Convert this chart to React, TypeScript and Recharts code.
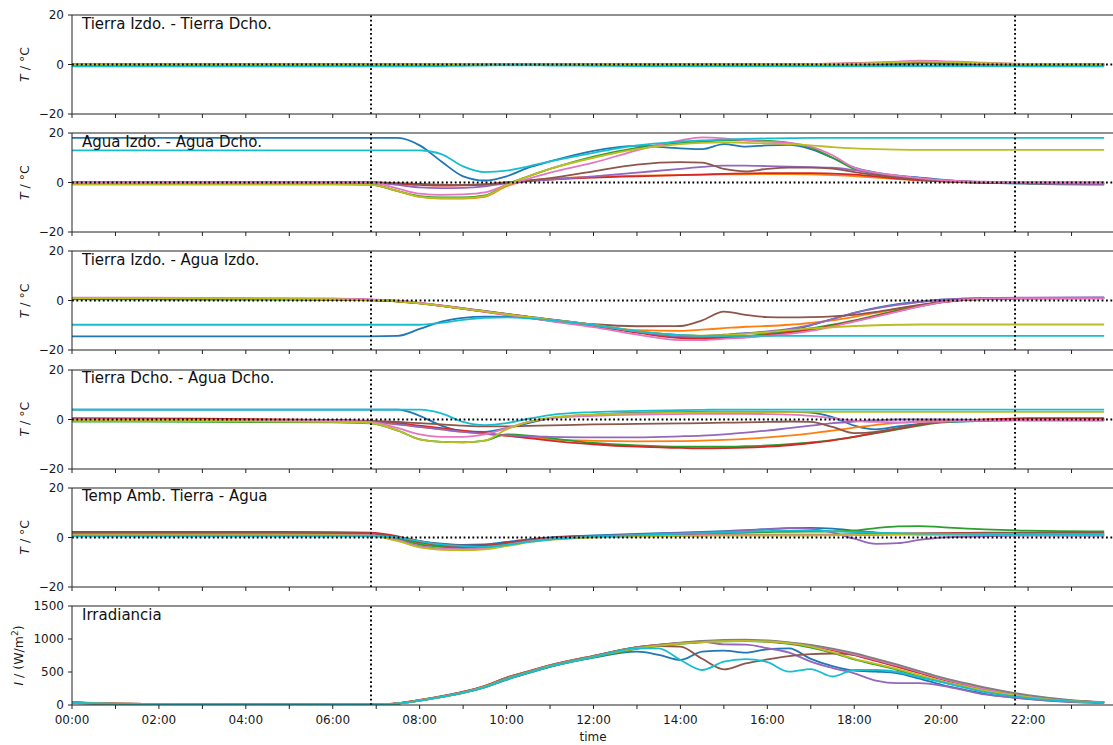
import React from 'react';
import { LineChart, Line, XAxis, YAxis, ReferenceLine } from 'recharts';

// ---------- time axes (hours) ----------
const T = [0, 3, 6, 6.87, 7.5, 8, 8.5, 9, 9.5, 10, 10.5, 11, 12, 13, 14, 14.5, 15, 15.5, 16, 16.5, 17, 17.5, 18, 18.5, 19, 19.5, 20, 21, 22, 23.75];
const TI = [0, 1, 3, 6, 6.87, 7.25, 7.5, 8, 8.5, 9, 9.5, 10, 10.5, 11, 12, 13, 13.5, 14, 14.5, 15, 15.5, 16, 16.5, 17, 17.5, 18, 18.5, 19, 19.5, 20, 20.5, 21, 21.7, 22, 23, 23.75];
const HOUR_TICKS = [0, 1, 2, 3, 4, 5, 6, 7, 8, 9, 10, 11, 12, 13, 14, 15, 16, 17, 18, 19, 20, 21, 22, 23];
const HOUR_LABELS = ['00:00', '02:00', '04:00', '06:00', '08:00', '10:00', '12:00', '14:00', '16:00', '18:00', '20:00', '22:00'];
const SUNRISE = 6.88;
const SUNSET = 21.7;

const TEMP_TICKS = [-20, 0, 20];
const IRR_TICKS = [0, 500, 1000, 1500];

const TITLES = [
  'Tierra Izdo. - Tierra Dcho.',
  'Agua Izdo. - Agua Dcho.',
  'Tierra Izdo. - Agua Izdo.',
  'Tierra Dcho. - Agua Dcho.',
  'Temp Amb. Tierra - Agua',
  'Irradiancia',
];

// ---------- panel 1: Tierra Izdo. - Tierra Dcho. ----------
const tierraDiff: Record<string, number[]> = {
  blue: [-0.6, -0.6, -0.6, -0.6, -0.5, -0.4, -0.3, -0.2, -0.1, 0, 0, -0.1, -0.2, -0.3, -0.3, -0.3, -0.3, -0.3, -0.3, -0.2, -0.2, -0.1, 0, 0.1, 0.3, 0.5, 0.4, 0.1, -0.3, -0.5],
  orange: [0.2, 0.2, 0.2, 0.2, 0.1, 0, -0.1, -0.1, 0, 0.1, 0.2, 0.2, 0.1, 0, 0, 0, 0, 0, 0.1, 0.1, 0.2, 0.3, 0.4, 0.6, 0.8, 0.9, 0.7, 0.3, 0.1, 0.1],
  green: [-0.3, -0.3, -0.3, -0.3, -0.3, -0.2, -0.1, 0, 0.1, 0.2, 0.2, 0.1, 0, -0.1, -0.1, -0.1, -0.1, -0.1, -0.1, 0, 0, 0.1, 0.2, 0.3, 0.4, 0.5, 0.4, 0.1, -0.2, -0.3],
  red: [0.1, 0.1, 0.1, 0.1, 0, 0, 0, 0, 0, 0.1, 0.1, 0.1, 0, 0, 0, 0, 0, 0, 0, 0.1, 0.1, 0.2, 0.3, 0.5, 0.7, 0.8, 0.7, 0.3, 0.1, 0.1],
  purple: [-0.2, -0.2, -0.2, -0.2, -0.2, -0.1, 0, 0, 0, 0, 0, 0, 0, 0, 0, 0, 0, 0, 0, 0.1, 0.1, 0.2, 0.3, 0.5, 0.8, 1, 0.9, 0.4, 0.1, -0.1],
  brown: [0, 0, 0, 0, 0, 0, 0, 0, 0, 0, 0, 0, 0, 0, 0, 0, 0, 0, 0, 0, 0.1, 0.1, 0.2, 0.3, 0.5, 0.6, 0.5, 0.2, 0, 0],
  pink: [0, 0, 0, 0, 0, 0.1, 0.1, 0.1, 0, 0, 0, 0, 0, 0, 0, 0, 0, 0, 0.1, 0.1, 0.2, 0.3, 0.5, 0.8, 1.2, 1.6, 1.4, 0.7, 0.2, 0],
  olive: [0, 0, 0, 0, 0, 0, 0, 0, 0, 0, 0, 0, 0, 0, 0, 0, 0, 0, 0, 0, 0.1, 0.2, 0.3, 0.5, 0.9, 1.2, 1.1, 0.5, 0.2, 0],
  cyan: [-0.7, -0.7, -0.7, -0.7, -0.7, -0.7, -0.6, -0.5, -0.4, -0.3, -0.3, -0.4, -0.5, -0.6, -0.6, -0.6, -0.6, -0.6, -0.6, -0.6, -0.6, -0.6, -0.6, -0.6, -0.6, -0.6, -0.6, -0.6, -0.7, -0.7],
};

// ---------- panel 2: Agua Izdo. - Agua Dcho. ----------
const aguaDiff: Record<string, number[]> = {
  blue: [18, 18, 18, 18, 18, 15, 8.5, 2.5, 0.8, 2.5, 6, 8.5, 12.8, 14.8, 13.8, 13.5, 15.5, 14.5, 15, 15.2, 13.5, 10, 6, 4, 2.8, 2, 1.2, 0, -0.5, -0.8],
  orange: [-0.5, -0.5, -0.6, -0.8, -3.5, -5.8, -6.5, -6.5, -5.8, -1.5, 0.8, 1.5, 2.3, 2.8, 3, 3.2, 3.3, 3.3, 3.4, 3.4, 3.3, 3, 2.6, 2, 1.4, 0.9, 0.5, 0, -0.3, -0.5],
  green: [-0.5, -0.5, -0.5, -0.8, -3.5, -5.5, -6, -6, -5.2, -0.8, 2.5, 5.5, 10.5, 14, 16, 16.5, 17, 17, 16.8, 16, 14, 10, 5.5, 3.5, 2.5, 1.5, 0.8, 0, -0.3, -0.5],
  red: [0, 0, 0, 0, -0.5, -1, -1.3, -1.2, -0.8, 0, 0.6, 1.2, 2, 2.5, 3, 3.2, 3.5, 3.7, 3.8, 3.8, 3.8, 3.6, 3.2, 2.5, 1.6, 1, 0.5, 0, 0, 0],
  purple: [0, 0, 0, 0, -1, -2, -2.3, -2.2, -1.6, -0.3, 0.6, 1.2, 2.5, 4, 5.5, 6.3, 6.8, 6.8, 6.6, 6.4, 6.2, 6, 5, 3.8, 2.6, 1.6, 0.9, 0.2, -0.3, -0.6],
  brown: [0, 0, 0, 0, -0.3, -0.6, -0.9, -1, -0.8, 0, 0.8, 1.8, 4.5, 7.2, 8.2, 8, 5.5, 4.5, 5.5, 6, 6, 5.6, 4.2, 3, 2, 1.2, 0.6, 0, -0.2, -0.3],
  pink: [0, 0, 0, 0, -2.5, -4.5, -5, -4.8, -4, -1, 1.5, 4, 8, 13, 17, 18.2, 17.8, 17, 16.5, 16, 14.5, 11, 6, 4, 2.8, 1.8, 1, 0.3, 0, -0.2],
  olive: [-0.8, -0.8, -0.8, -1, -3.5, -5.8, -6.3, -6.3, -5.5, -1, 2.5, 5.5, 10, 13.5, 15.5, 16, 16.2, 16, 15.8, 15.5, 15, 14.3, 13.8, 13.5, 13.3, 13.2, 13.2, 13.2, 13.2, 13.2],
  cyan: [13, 13, 13, 13, 13, 13, 11.5, 6.5, 4.2, 4.8, 6.5, 8.5, 12, 15, 16.5, 17, 17.3, 17.6, 17.8, 17.9, 18, 18, 18, 18, 18, 18, 18, 18, 18, 18],
};

// ---------- panel 3: Tierra Izdo. - Agua Izdo. ----------
const izdoDiff: Record<string, number[]> = {
  blue: [-14.5, -14.5, -14.5, -14.5, -14.3, -11.5, -8.5, -7, -6.5, -6.5, -6.8, -7.6, -9.8, -12.5, -14, -14.3, -13.8, -13.2, -13, -12, -10, -7.5, -5, -3, -1.5, -0.5, 0.3, 0.9, 1.1, 1.2],
  orange: [0.6, 0.5, 0.4, 0.1, -0.4, -1.2, -2.2, -3.3, -4.4, -5.5, -6.6, -7.7, -9.9, -12, -12.3, -11.8, -11.2, -10.6, -10.3, -9.8, -9, -8, -6.6, -5, -3.4, -2, -0.7, 0.7, 0.9, 1],
  green: [0.5, 0.4, 0.3, 0.1, -0.4, -1.2, -2.2, -3.3, -4.4, -5.5, -6.6, -7.7, -10, -12.8, -14.8, -15, -14.8, -14.4, -13.6, -12.6, -11.3, -9.8, -8, -6, -4, -2.2, -0.7, 0.6, 0.8, 0.9],
  red: [0.8, 0.7, 0.5, 0.2, -0.3, -1.1, -2.2, -3.4, -4.6, -5.8, -7, -8.2, -10.4, -13, -15.2, -15.5, -15.2, -14.8, -14, -13, -11.8, -10.2, -8.3, -6.3, -4.3, -2.4, -0.8, 0.7, 1, 1],
  purple: [1, 0.9, 0.6, 0.3, -0.2, -1, -2, -3.1, -4.2, -5.4, -6.5, -7.6, -9.8, -12.6, -14.5, -14.6, -14, -13.3, -12.5, -11.5, -9.8, -7.5, -5, -3.2, -1.8, -0.6, 0.3, 1, 1.2, 1.3],
  brown: [0.8, 0.7, 0.5, 0.2, -0.3, -1.1, -2.1, -3.2, -4.3, -5.4, -6.6, -7.8, -9.6, -10.4, -10.3, -8, -4.5, -5.8, -6.7, -6.8, -6.7, -6.4, -5.8, -4.6, -3.2, -1.8, -0.5, 0.8, 1, 1.1],
  pink: [1.2, 1.1, 0.8, 0.4, -0.1, -1, -2.1, -3.3, -4.5, -5.8, -7, -8.3, -10.8, -13.8, -16, -16, -15.5, -15, -14.3, -13.5, -12.3, -10.5, -8.5, -6.5, -4.5, -2.5, -0.8, 0.8, 1, 1],
  olive: [1, 0.9, 0.5, 0.2, -0.3, -1.2, -2.2, -3.3, -4.4, -5.5, -6.6, -7.7, -9.8, -12.4, -14, -14.2, -14, -13.5, -12.8, -12, -11.3, -10.8, -10.3, -10, -9.8, -9.7, -9.7, -9.7, -9.7, -9.7],
  cyan: [-9.8, -9.8, -9.8, -9.8, -9.8, -9.8, -9, -7.8, -7, -6.8, -7.2, -7.9, -9.9, -12.4, -14, -14.3, -14.3, -14.3, -14.3, -14.3, -14.3, -14.3, -14.3, -14.3, -14.3, -14.3, -14.3, -14.3, -14.3, -14.3],
};

// ---------- panel 4: Tierra Dcho. - Agua Dcho. ----------
const dchoDiff: Record<string, number[]> = {
  blue: [4, 4, 4, 4, 4, 1.5, -2.5, -4.8, -5, -3.5, -1.5, 0.5, 2, 2.8, 3, 3.1, 3.2, 3.2, 3.2, 3.1, 2.8, 1, -2.5, -4, -2.8, -1.8, -1.2, -0.5, -0.3, -0.3],
  orange: [-0.3, -0.4, -0.7, -1, -2, -3, -4, -5, -5.8, -6.6, -7.3, -8, -8.6, -8.8, -8.7, -8.5, -8.2, -7.8, -7.2, -6.5, -5.6, -4.5, -3.3, -2.2, -1.4, -0.8, -0.4, -0.1, 0, 0],
  green: [-0.8, -0.9, -1.2, -1.6, -4.5, -8, -9, -9.2, -8.5, -6, -6.5, -7.5, -9.5, -10.5, -11, -11, -11, -10.8, -10.5, -10, -9.3, -8.3, -7, -5.5, -4, -2.5, -1.2, -0.3, 0, 0],
  red: [0.5, 0.3, -0.2, -0.8, -1.5, -2.5, -3.5, -4.5, -5.5, -6.5, -7.5, -8.5, -10, -11, -11.5, -11.7, -11.6, -11.4, -11, -10.4, -9.5, -8.4, -7, -5.4, -3.8, -2.2, -1, 0, 0.5, 0.5],
  purple: [-0.5, -0.6, -0.8, -1, -2, -3, -4, -5, -5.8, -6.4, -6.8, -7, -7.2, -7.2, -6.8, -6.5, -6, -5.3, -4.5, -3.5, -2.5, -1.5, -0.8, -0.3, 0, 0, 0, -0.2, -0.3, -0.3],
  brown: [0, -0.1, -0.3, -0.6, -1, -1.5, -2, -2.5, -2.8, -2.8, -2.6, -2.4, -2, -1.8, -1.6, -1.5, -1.3, -1.2, -1, -0.8, -1, -3, -5.5, -5, -3.5, -2, -1, -0.3, 0, 0],
  pink: [0, -0.2, -0.5, -1, -3.5, -6, -7, -7, -6, -3.5, -1, 0.5, 1.5, 2, 2.2, 2.3, 2.3, 2.3, 2.2, 2, 1.5, 0.5, -0.5, -1, -1.2, -1, -0.8, -0.4, -0.2, -0.2],
  olive: [-0.5, -0.6, -1, -1.5, -4.5, -8, -9, -9.2, -8.5, -4, -1, 0.8, 2, 2.5, 2.8, 2.9, 3, 3, 3, 3, 3.1, 3.1, 3.1, 3.1, 3.1, 3.1, 3.1, 3.1, 3.1, 3.1],
  cyan: [4, 4, 4, 4, 4, 4, 2.5, -1, -2.3, -1.5, 0.3, 1.8, 3, 3.5, 3.8, 3.9, 4, 4, 4, 4, 4, 4, 4, 4, 4, 4, 4, 4, 4, 4],
};

// ---------- panel 5: Temp Amb. Tierra - Agua ----------
const ambDiff: Record<string, number[]> = {
  blue: [1.3, 1.3, 1.2, 1, 0, -1.5, -2.5, -3, -2.8, -1.8, -0.8, 0, 0.8, 1.5, 2, 2.3, 2.6, 3, 3.4, 3.8, 3.9, 3.6, 2.8, 2, 1.5, 1.3, 1.3, 1.2, 1, 0.9],
  orange: [1.8, 1.8, 1.7, 1.5, -0.5, -2.5, -3.5, -4, -3.8, -2.5, -1.2, -0.5, 0.2, 0.6, 0.8, 0.9, 1, 1, 1, 1, 1, 1.1, 1.3, 1.5, 1.6, 1.6, 1.6, 1.6, 1.5, 1.5],
  green: [1.5, 1.5, 1.4, 1.3, -0.5, -2.8, -3.8, -4.2, -4, -2.8, -1.5, -0.5, 0.5, 1, 1.4, 1.6, 1.8, 2, 2.2, 2.3, 2.4, 2.5, 2.8, 3.8, 4.5, 4.6, 4.2, 3.3, 2.8, 2.5],
  red: [2.3, 2.3, 2.2, 2, 0.5, -1.5, -2.8, -3.3, -3.2, -2.2, -1, -0.2, 0.5, 0.8, 1, 1.1, 1.2, 1.2, 1.2, 1.2, 1.2, 1.2, 1.3, 1.5, 1.6, 1.7, 1.8, 2, 2, 2],
  purple: [1.5, 1.5, 1.4, 1.2, -1, -3.5, -4.5, -4.8, -4.5, -3, -1.5, -0.5, 0.5, 1.2, 1.8, 2.1, 2.4, 2.8, 3.3, 3.8, 3.5, 2, -0.5, -2.6, -2.3, -1, 0, 0.5, 0.8, 0.8],
  brown: [2, 2, 1.9, 1.7, 0, -2, -3.2, -3.8, -3.6, -2.5, -1.2, -0.4, 0.3, 0.7, 0.9, 1, 1, 1, 1, 1, 1, 1, 1, 1.2, 1.4, 1.5, 1.6, 1.8, 1.9, 2],
  pink: [1.2, 1.2, 1.1, 0.9, -1.2, -3.8, -4.6, -4.8, -4.4, -3, -1.6, -0.7, 0.2, 0.6, 0.8, 0.9, 1, 1, 1, 1, 1, 1, 1.1, 1.2, 1.2, 1.2, 1.2, 1.1, 1, 1],
  olive: [1, 1, 0.9, 0.7, -1.5, -4, -5, -5.2, -4.8, -3.5, -2, -1, 0, 0.4, 0.6, 0.7, 0.8, 0.8, 0.8, 0.8, 0.8, 0.9, 1, 1.2, 1.3, 1.4, 1.4, 1.4, 1.3, 1.3],
  cyan: [0.5, 0.5, 0.5, 0.5, 0, -1.5, -2.8, -3.5, -3.8, -3, -1.8, -0.8, 0.3, 1, 1.5, 1.8, 2, 2.3, 2.6, 2.8, 2.8, 2.5, 2.2, 2, 1.8, 1.6, 1.5, 1.4, 1.2, 1.2],
};

// ---------- panel 6: Irradiancia (W/m2), on TI ----------
const irradiancia: Record<string, number[]> = {
  blue: [30, 15, 8, 5, 5, 11, 22, 65, 120, 183, 268, 382, 482, 576, 718, 808, 760, 682, 808, 823, 793, 845, 858, 700, 590, 520, 505, 480, 400, 310, 235, 170, 112, 92, 46, 32],
  orange: [42, 22, 10, 6, 6, 14, 27, 75, 132, 200, 288, 415, 508, 602, 745, 876, 912, 940, 962, 976, 980, 968, 938, 895, 836, 760, 675, 585, 490, 398, 318, 245, 165, 136, 66, 42],
  green: [36, 18, 9, 6, 6, 12, 23, 66, 120, 185, 270, 388, 488, 580, 722, 852, 895, 928, 950, 963, 968, 958, 928, 870, 790, 690, 610, 530, 440, 352, 278, 208, 142, 114, 56, 38],
  red: [40, 21, 10, 6, 6, 14, 27, 76, 134, 202, 290, 416, 510, 604, 746, 875, 910, 938, 958, 972, 976, 966, 936, 892, 832, 755, 668, 578, 485, 392, 312, 240, 162, 133, 64, 41],
  purple: [38, 20, 10, 6, 6, 13, 25, 70, 126, 192, 278, 400, 498, 593, 735, 866, 905, 938, 955, 918, 915, 860, 795, 657, 560, 480, 370, 330, 330, 295, 228, 160, 110, 90, 45, 33],
  brown: [38, 20, 10, 6, 6, 13, 25, 71, 127, 193, 280, 402, 500, 596, 738, 866, 894, 884, 700, 540, 630, 690, 740, 770, 780, 760, 690, 600, 505, 405, 325, 250, 170, 136, 66, 42],
  pink: [38, 20, 10, 6, 6, 13, 25, 70, 126, 192, 279, 402, 500, 595, 738, 868, 906, 937, 958, 973, 979, 970, 944, 900, 842, 768, 685, 595, 500, 405, 322, 246, 168, 134, 64, 41],
  gray: [40, 22, 10, 6, 6, 13, 26, 72, 128, 195, 282, 410, 505, 600, 742, 876, 915, 946, 970, 985, 990, 977, 948, 910, 855, 785, 700, 610, 515, 418, 340, 266, 180, 150, 75, 45],
  olive: [36, 19, 9, 6, 6, 12, 24, 68, 123, 188, 274, 394, 494, 588, 730, 860, 900, 932, 953, 966, 971, 962, 936, 884, 800, 700, 622, 542, 452, 362, 288, 218, 150, 120, 58, 39],
  cyan: [35, 18, 9, 6, 6, 12, 23, 67, 122, 186, 272, 390, 490, 585, 727, 858, 858, 682, 530, 656, 695, 650, 505, 545, 432, 530, 530, 500, 420, 350, 270, 195, 128, 104, 54, 38],
};

// ---------- styles ----------
const COLORS: Record<string, string> = {
  blue: '#1f77b4', orange: '#ff7f0e', green: '#2ca02c', red: '#d62728', purple: '#9467bd',
  brown: '#8c564b', pink: '#e377c2', gray: '#7f7f7f', olive: '#bcbd22', cyan: '#17becf',
};
const FONT = 'DejaVu Sans, Liberation Sans, sans-serif';
const MT = 8;
const PH = 99;
const PANEL_TOPS = [15, 133.2, 251.4, 369.6, 487.8, 606];
const CHART_W = 1115;
const AXIS = '#222';
const TEXT = '#1a1a1a';

type PanelProps = {
  top: number;
  times: number[];
  series: Record<string, number[]>;
  domain: [number, number];
  yTicks: number[];
  showX: boolean;
  zero: boolean;
};

function Panel({ top, times, series, domain, yTicks, showX, zero }: PanelProps) {
  const keys = Object.keys(series);
  const data = times.map((t, i) => {
    const row: Record<string, number> = { t };
    keys.forEach((k) => { row[k] = series[k][i]; });
    return row;
  });
  const xh = showX ? 30 : 6;
  const dotted = { stroke: '#000', strokeWidth: 1.9, strokeDasharray: '1.8 2.6' };
  return (
    <div style={{ position: 'absolute', left: 0, top: top - MT }}>
      <LineChart width={CHART_W} height={MT + PH + xh} data={data} margin={{ top: MT, right: 0, bottom: 0, left: 0 }}>
        <XAxis
          dataKey="t" type="number" domain={[0, 24]} ticks={HOUR_TICKS} interval={0}
          height={xh} tickSize={4} tickMargin={6} stroke={AXIS}
          tick={{ fontSize: 12, fill: TEXT, fontFamily: FONT }}
          tickFormatter={(v: number) => (showX && v % 2 === 0 ? HOUR_LABELS[v / 2] : '')}
          allowDataOverflow
        />
        <YAxis
          type="number" domain={domain} ticks={yTicks} interval={0} width={72}
          tickSize={4} tickMargin={4} stroke={AXIS}
          tick={{ fontSize: 12, fill: TEXT, fontFamily: FONT }}
          tickFormatter={(v: number) => String(v).replace('-', '\u2212')}
          allowDataOverflow
        />
        {keys.map((k) => (
          <Line key={k} dataKey={k} type="monotone" stroke={COLORS[k]} strokeWidth={1.8} dot={false} isAnimationActive={false} />
        ))}
        <ReferenceLine y={domain[1]} stroke={AXIS} strokeWidth={1} />
        {zero && <ReferenceLine y={0} {...dotted} />}
        <ReferenceLine x={SUNRISE} {...dotted} />
        <ReferenceLine x={SUNSET} {...dotted} />
      </LineChart>
    </div>
  );
}

export default function App() {
  const tempPanels = [tierraDiff, aguaDiff, izdoDiff, dchoDiff, ambDiff];
  return (
    <div style={{ position: 'absolute', left: 0, top: 0, width: 1113, height: 745, overflow: 'hidden', background: '#fff', fontFamily: FONT }}>
      {tempPanels.map((s, i) => (
        <Panel key={i} top={PANEL_TOPS[i]} times={T} series={s} domain={[-20, 20]} yTicks={TEMP_TICKS} showX={false} zero />
      ))}
      <Panel top={PANEL_TOPS[5]} times={TI} series={irradiancia} domain={[0, 1500]} yTicks={IRR_TICKS} showX zero={false} />
      <svg width={1113} height={745} style={{ position: 'absolute', left: 0, top: 0, pointerEvents: 'none' }} fontFamily={FONT}>
        {TITLES.map((t, i) => (
          <text key={t} x={82} y={PANEL_TOPS[i] + 13.5} fontSize={15} fill="#111">{t}</text>
        ))}
        {PANEL_TOPS.slice(0, 5).map((top, i) => (
          <text key={i} transform={`translate(29, ${top + PH / 2}) rotate(-90)`} textAnchor="middle" fontSize={12.5} fill={TEXT}>
            <tspan fontStyle="italic">T</tspan> / °C
          </text>
        ))}
        <text transform={`translate(23, ${PANEL_TOPS[5] + PH / 2}) rotate(-90)`} textAnchor="middle" fontSize={12.5} fill={TEXT}>
          <tspan fontStyle="italic">I</tspan> / (W/m<tspan dy={-5} fontSize={9}>2</tspan><tspan dy={5}>)</tspan>
        </text>
        <text x={593} y={741} textAnchor="middle" fontSize={12} fill={TEXT}>time</text>
      </svg>
    </div>
  );
}
